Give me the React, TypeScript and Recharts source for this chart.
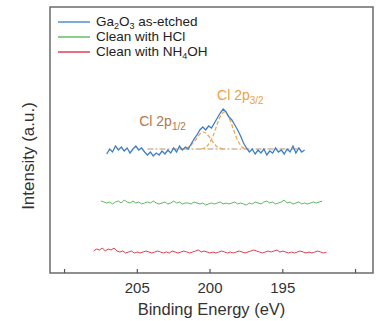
import { LineChart, Line, XAxis, YAxis, Legend, ReferenceArea, ReferenceDot } from 'recharts'

// binding energy grid: first point (eV), step 0.2 eV going down
const STEP = 0.2
const asEtchedStart = 207.1
const asEtched = [
  119, 124, 121, 127, 123, 126, 122, 125, 120, 124, 127, 123, 125, 121, 118, 121, 117, 120, 118, 122,
  119, 123, 120, 125, 121, 127, 123, 126, 124, 129, 134, 138, 143, 146, 143, 147, 145, 150, 155, 160,
  164, 161, 156, 153, 148, 143, 137, 130, 125, 121, 124, 119, 123, 120, 124, 118, 122, 120, 125, 121,
  123, 119, 124, 121, 127, 120, 125, 121, 123,
]
const hclStart = 207.5
const hcl = [
  72, 71, 70, 71, 69, 71, 72, 70, 73, 71, 70, 72, 70, 71, 69, 70, 71, 70, 72, 70,
  69, 70, 71, 69, 70, 72, 70, 71, 69, 70, 70, 69, 71, 70, 69, 70, 68, 69, 70, 69,
  70, 71, 69, 70, 69, 70, 71, 69, 70, 69, 68, 70, 69, 71, 70, 69, 71, 72, 70, 71,
  69, 70, 71, 73, 70, 71, 69, 70, 71, 69, 70, 69, 70, 71, 70, 71, 72,
]
const nh4ohStart = 208.0
const nh4oh = [
  22, 24, 23, 25, 22, 24, 23, 25, 22, 21, 22, 20, 21, 22, 20, 21, 20, 21, 22, 21,
  20, 21, 22, 21, 20, 21, 20, 22, 21, 20, 21, 22, 21, 20, 21, 22, 23, 21, 22, 21,
  20, 21, 20, 21, 22, 21, 20, 21, 20, 21, 22, 21, 20, 21, 22, 23, 22, 21, 20, 21,
  22, 21, 22, 23, 21, 22, 21, 20, 21, 20, 21, 22, 21, 20, 21, 20, 21, 22, 21, 20, 21,
]
// fitted components
const p12Start = 202.1
const p12 = [124, 124, 125, 126, 128, 131, 135, 139, 141, 140, 137, 133, 129, 126, 125, 124]
const p32Start = 200.6
const p32 = [124, 125, 127, 131, 137, 145, 153, 159, 161, 158, 152, 144, 136, 130, 126, 124]
const background = [
  { x: 204.3, y: 124 },
  { x: 193.8, y: 124 },
]

const xTicks = [210, 205, 200, 195, 190]
const labelledTicks = [205, 200, 195]

const toPoints = (start: number, values: number[]) =>
  values.map((y, i) => ({ x: +(start - i * STEP).toFixed(2), y }))

const FONT = '"Liberation Sans", Arial, sans-serif'

const subStyle = { fontSize: 9, lineHeight: 0, verticalAlign: '-3px' }

const legendItems = [
  { color: '#5b95d3', label: <>Ga<sub style={subStyle}>2</sub>O<sub style={subStyle}>3</sub> as-etched</> },
  { color: '#6fbf6f', label: <>Clean with HCl</> },
  { color: '#e34d5e', label: <>Clean with NH<sub style={subStyle}>4</sub>OH</> },
]

function LegendBox() {
  return (
    <div style={{ fontFamily: FONT, fontSize: 13.5, color: '#222' }}>
      {legendItems.map((it, i) => (
        <div key={i} style={{ display: 'flex', alignItems: 'center', height: 15, lineHeight: '15px' }}>
          <svg width={34} height={4} style={{ marginRight: 4 }}>
            <line x1={0} x2={32} y1={2} y2={2} stroke={it.color} strokeWidth={1.6} />
          </svg>
          <span style={{ whiteSpace: 'nowrap' }}>{it.label}</span>
        </div>
      ))}
    </div>
  )
}

function XTick(props: any) {
  const { x, y, payload } = props
  return (
    <g>
      <line x1={x} x2={x} y1={y} y2={y - 4} stroke="#555" strokeWidth={1.2} />
      {labelledTicks.includes(payload.value) && (
        <text x={x} y={y + 20} textAnchor="middle" fontSize={15} fill="#333" fontFamily={FONT}>
          {payload.value}
        </text>
      )}
    </g>
  )
}

function PeakLabel({ viewBox, sub, color }: any) {
  return (
    <text x={viewBox.x} y={viewBox.y} fontSize={14} fill={color} fontFamily={FONT}>
      Cl 2p
      <tspan dy={4} fontSize={10}>{sub}</tspan>
    </text>
  )
}

export default function App() {
  return (
    <div style={{ position: 'fixed', left: 0, top: 0, background: '#fff' }}>
      <LineChart width={378} height={321} margin={{ top: 7, right: 5, left: 0, bottom: 0 }}>
        <XAxis
          type="number"
          dataKey="x"
          domain={[188.8, 211]}
          reversed
          ticks={xTicks}
          tick={<XTick />}
          tickSize={0}
          tickMargin={0}
          tickLine={false}
          axisLine={false}
          height={48}
          allowDataOverflow
          label={{
            value: 'Binding Energy (eV)',
            position: 'insideBottom',
            offset: 6,
            fontSize: 16.5,
            fill: '#333',
            fontFamily: FONT,
          }}
        />
        <YAxis
          type="number"
          dataKey="y"
          domain={[0, 266]}
          width={50}
          tick={false}
          tickLine={false}
          axisLine={false}
          allowDataOverflow
          label={{
            value: 'Intensity (a.u.)',
            angle: -90,
            position: 'center',
            dx: 3,
            dy: 16,
            fontSize: 17,
            fill: '#333',
            fontFamily: FONT,
          }}
        />
        <ReferenceArea x1={188.8} x2={211} y1={0} y2={266} fill="none" stroke="#6b6b6b" strokeWidth={1.5} />
        <Legend
          layout="vertical"
          align="center"
          verticalAlign="middle"
          wrapperStyle={{ top: 14, left: 58, width: 'auto' }}
          content={<LegendBox />}
        />
        <Line
          data={background}
          dataKey="y"
          stroke="#b8926e"
          strokeWidth={1.2}
          strokeDasharray="6 2 2 2"
          dot={false}
          legendType="none"
          isAnimationActive={false}
        />
        <Line
          data={toPoints(p12Start, p12)}
          dataKey="y"
          type="monotone"
          stroke="#eda45e"
          strokeWidth={1.2}
          strokeDasharray="4 2"
          dot={false}
          legendType="none"
          isAnimationActive={false}
        />
        <Line
          data={toPoints(p32Start, p32)}
          dataKey="y"
          type="monotone"
          stroke="#f3a23c"
          strokeWidth={1.2}
          strokeDasharray="4 2"
          dot={false}
          legendType="none"
          isAnimationActive={false}
        />
        <Line
          data={toPoints(asEtchedStart, asEtched)}
          dataKey="y"
          name="Ga2O3 as-etched"
          stroke="#3f7fc6"
          strokeWidth={1.3}
          dot={false}
          isAnimationActive={false}
        />
        <Line
          data={toPoints(hclStart, hcl)}
          dataKey="y"
          name="Clean with HCl"
          stroke="#5fb85f"
          strokeWidth={1}
          dot={false}
          isAnimationActive={false}
        />
        <Line
          data={toPoints(nh4ohStart, nh4oh)}
          dataKey="y"
          name="Clean with NH4OH"
          stroke="#e03c4e"
          strokeWidth={1}
          dot={false}
          isAnimationActive={false}
        />
        <ReferenceDot
          x={204.8}
          y={146}
          r={1}
          fill="none"
          stroke="none"
          label={<PeakLabel sub="1/2" color="#b3774b" />}
        />
        <ReferenceDot
          x={199.45}
          y={172}
          r={1}
          fill="none"
          stroke="none"
          label={<PeakLabel sub="3/2" color="#f0a040" />}
        />
      </LineChart>
    </div>
  )
}
